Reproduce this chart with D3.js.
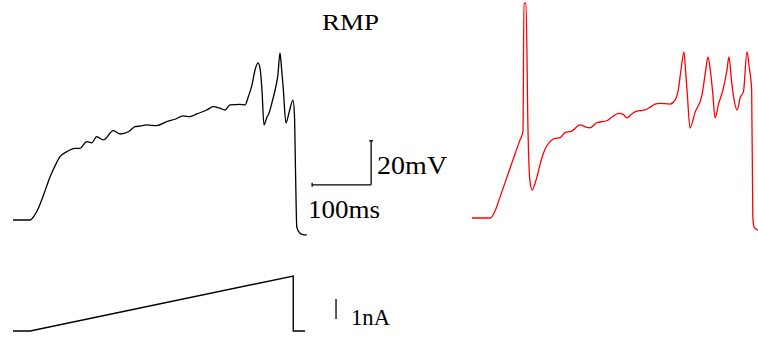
<!DOCTYPE html>
<html lang="en">
    <head>
        <meta charset="utf-8">
        <title>RMP ramp</title>
        <script type="text/javascript" src="https://cdn.jsdelivr.net/npm/d3@7"></script>
        <style type="text/css">
            body { margin: 0; background: #fff; }
            text { font-family: "Liberation Serif", "Times New Roman", serif; fill: #000; }
        </style>
    </head>
    <body>
        <script type="text/javascript">
        // Size of the picture
        var svgWidth  = 758;
        var svgHeight = 339;

        // Black trace: time (ms) and membrane potential (mV)
        var blackTime = [0, 29, 35.6, 42.4, 49.2, 55.9, 62.7, 69.5, 79.7, 91, 105.1, 113.6, 124.9, 133.4, 141.9, 153.1, 170, 181.4, 195.4, 206.8, 215.3, 226.6, 243.6, 260.5, 274.6, 288.6, 300, 311.4, 328.3, 339.5, 350.8, 359.3, 367.8, 384.7, 393.2, 398.8, 405.1, 410.2, 415.3, 418.6, 422, 425.4, 430, 434, 440, 445, 449, 452.5, 455, 458, 462.7, 468, 474.6, 477, 479, 481, 486, 491, 498];
        var blackV    = [-70, -70, -68.2, -65, -60.5, -55.5, -50.5, -46.4, -41.2, -39, -37.4, -37.4, -34.4, -34.9, -32.1, -33.6, -29.4, -30.9, -29.9, -27.6, -27.3, -26.8, -27.1, -25.3, -24.2, -22.7, -23, -21.8, -20, -18.5, -19.2, -20, -17.7, -17.4, -17.7, -14, -8.6, -1.8, 1.4, -0.9, -10.9, -26.8, -23.5, -21.4, -15.5, -10, -4, 5.9, -0.5, -10, -25.9, -21, -15.5, -22, -50, -73.2, -75.9, -76.6, -76.8];

        // Red trace: time (ms) and membrane potential (mV)
        var redTime = [0, 31, 39, 47.5, 59.3, 72.9, 81.4, 86.4, 88, 91.5, 95, 98, 102, 106, 110, 117, 123.7, 132.2, 140.7, 149.2, 157.6, 169, 183.1, 194.4, 200, 211.4, 228.3, 236.8, 248, 256.4, 262.2, 270.7, 279.2, 293.2, 301.7, 310.2, 318.6, 335.6, 344.1, 349.7, 354.2, 359.3, 362, 365, 369.5, 378, 389.8, 396, 400, 404, 408, 412, 418, 425.4, 432, 435.6, 440, 444, 449.2, 455, 460, 466.1, 470, 474, 476, 478, 481, 485];
        var redV    = [-70, -70, -66.8, -60.5, -51.4, -40.9, -34.5, -30.5, 27.7, 27.7, -31.4, -52.7, -57.3, -55, -51.4, -44, -38.8, -35.3, -33.8, -33.5, -31.2, -30.5, -27.7, -28.8, -29, -26.7, -25.8, -24.2, -22.4, -22.9, -24.5, -22.7, -21.4, -20.9, -19.7, -18.2, -17.9, -18.2, -16.4, -11.8, -2.7, 5.5, -3, -14, -29.1, -22, -14.1, -3, 3.2, -3, -13, -24.5, -18, -11.8, -3, 3.2, -8, -16, -20.9, -15, -12.7, 5.5, -1.8, -11.8, -69.5, -74.1, -75, -75.5];

        // Injected current: time (ms) and amplitude (nA)
        var currentTime = [0, 29, 475, 475, 495];
        var currentI    = [0, 0, 2.75, 0, 0];

        // Scale bars and labels
        var scaleTime = 100;   // ms
        var scaleVolt = 20;    // mV
        var scaleAmp  = 1;     // nA
        var titleText = "RMP";
        var timeLabel = "100ms";
        var voltLabel = "20mV";
        var ampLabel  = "1nA";

        // Create SVG element
        var svg = d3.select("body")
            .append("svg")
            .attr("width", svgWidth)
            .attr("height", svgHeight);

        // Scales: 0.59 px per ms, 2.2 px per mV, 20 px per nA
        var xBlack = d3.scaleLinear().domain([0, 500]).range([13, 13 + 295]);
        var xRed   = d3.scaleLinear().domain([0, 500]).range([472, 472 + 295]);
        var yBlack = d3.scaleLinear().domain([-70, 30]).range([220, 0]);
        var yRed   = d3.scaleLinear().domain([-70, 30]).range([218, -2]);
        var yAmp   = d3.scaleLinear().domain([0, 3]).range([331, 271]);

        function drawTrace(times, values, xs, ys, colour, width) {
            var line = d3.line()
                .x(function(d) { return xs(d[0]); })
                .y(function(d) { return ys(d[1]); })
                .curve(d3.curveMonotoneX);
            svg.append("path")
                .datum(d3.zip(times, values))
                .attr("d", line)
                .attr("fill", "none")
                .attr("stroke", colour)
                .attr("stroke-width", width)
                .attr("stroke-linejoin", "round");
        }

        drawTrace(blackTime, blackV, xBlack, yBlack, "#000", 1.3);
        drawTrace(redTime, redV, xRed, yRed, "#ff0000", 1.3);

        // current trace is straight segments
        svg.append("path")
            .datum(d3.zip(currentTime, currentI))
            .attr("d", d3.line()
                .x(function(d) { return xBlack(d[0]); })
                .y(function(d) { return yAmp(d[1]); }))
            .attr("fill", "none")
            .attr("stroke", "#000")
            .attr("stroke-width", 1.4);

        // Voltage / time scale bar (corner at 607 ms, -54 mV)
        var sbT = 607, sbV = -54;
        var bar = svg.append("g")
            .attr("stroke", "#000")
            .attr("stroke-width", 1.3);
        bar.append("line")
            .attr("x1", xBlack(sbT - scaleTime)).attr("x2", xBlack(sbT))
            .attr("y1", yBlack(sbV)).attr("y2", yBlack(sbV));
        bar.append("line")
            .attr("x1", xBlack(sbT)).attr("x2", xBlack(sbT))
            .attr("y1", yBlack(sbV)).attr("y2", yBlack(sbV + scaleVolt));
        // end caps
        bar.append("line")
            .attr("x1", xBlack(sbT - scaleTime)).attr("x2", xBlack(sbT - scaleTime))
            .attr("y1", yBlack(sbV) - 2).attr("y2", yBlack(sbV) + 2);
        bar.append("line")
            .attr("x1", xBlack(sbT) - 2).attr("x2", xBlack(sbT) + 2)
            .attr("y1", yBlack(sbV + scaleVolt)).attr("y2", yBlack(sbV + scaleVolt));

        // Current scale bar
        var sbTi = 547.5, sbI = 0.6;
        bar.append("line")
            .attr("x1", xBlack(sbTi)).attr("x2", xBlack(sbTi))
            .attr("y1", yAmp(sbI)).attr("y2", yAmp(sbI + scaleAmp));

        // Labels (glyphs stretched a little, like the original)
        function label(str, x, y, size, len) {
            svg.append("text")
                .text(str)
                .attr("x", x).attr("y", y)
                .attr("font-size", size + "px")
                .attr("textLength", len)
                .attr("lengthAdjust", "spacingAndGlyphs");
        }
        label(titleText, 322, 30, 24, 57);
        label(voltLabel, xBlack(sbT) + 6, 174, 25, 70);
        label(timeLabel, xBlack(sbT - scaleTime) - 4, 218, 25, 72);
        label(ampLabel, xBlack(sbTi) + 15, 325, 23, 39);
        </script>
    </body>
</html>
